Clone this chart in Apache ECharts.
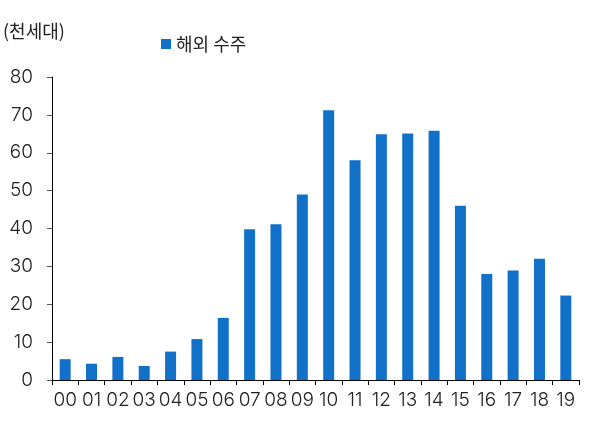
<!DOCTYPE html>
<html><head><meta charset="utf-8">
<script src="https://cdn.jsdelivr.net/npm/echarts@6/dist/echarts.min.js"></script>
<style>html,body{margin:0;padding:0;background:#fff}#c{width:589px;height:424px}</style>
</head><body><div id="c"></div>
<script>
const categories = ['00','01','02','03','04','05','06','07','08','09','10','11','12','13','14','15','16','17','18','19'];
const overseasOrders = [5.5,4.3,6.1,3.7,7.5,10.8,16.4,39.8,41.1,49.0,71.2,58.0,64.9,65.1,65.8,46.0,28.0,28.9,32.0,22.3];
const yTicks = [0,10,20,30,40,50,60,70,80];
const kfont = '"Noto Sans CJK KR", "Noto Sans", sans-serif';
const nfont = 'Inter, "Noto Sans CJK KR", sans-serif';
const chart = echarts.init(document.getElementById('c'));
chart.setOption({
  animation: false,
  textStyle: {fontFamily: kfont},
  graphic: [{type:'text', left: 3, top: 22, style:{text:'(천세대)', font:'18px ' + kfont, fill:'#222'}}],
  legend: {
    data: ['해외 수주'], left: 156, top: 30, itemWidth: 10, itemHeight: 10, itemGap: 3,
    icon: 'rect', textStyle: {fontSize: 18, color: '#222', fontFamily: kfont}
  },
  grid: {left: 52, right: 10, top: 77, bottom: 44, containLabel: false},
  xAxis: {
    type: 'category', data: categories,
    axisLine: {lineStyle: {color: '#000', width: 1}},
    axisTick: {show: true, length: 5, lineStyle: {color: '#000'}},
    axisLabel: {fontSize: 19, color: '#222', margin: 11, interval: 0, fontFamily: nfont, fontWeight: 300}
  },
  yAxis: {
    type: 'value', min: yTicks[0], max: yTicks[yTicks.length-1], interval: 10,
    axisLine: {show: true, lineStyle: {color: '#000', width: 1}},
    axisTick: {show: true, length: 5, lineStyle: {color: '#555'}},
    splitLine: {show: false},
    axisLabel: {fontSize: 19, color: '#222', margin: 19, fontFamily: nfont, fontWeight: 300}
  },
  series: [{
    name: '해외 수주', type: 'bar', data: overseasOrders, barWidth: 11,
    itemStyle: {color: '#1170C8'}
  }]
});
</script></body></html>
